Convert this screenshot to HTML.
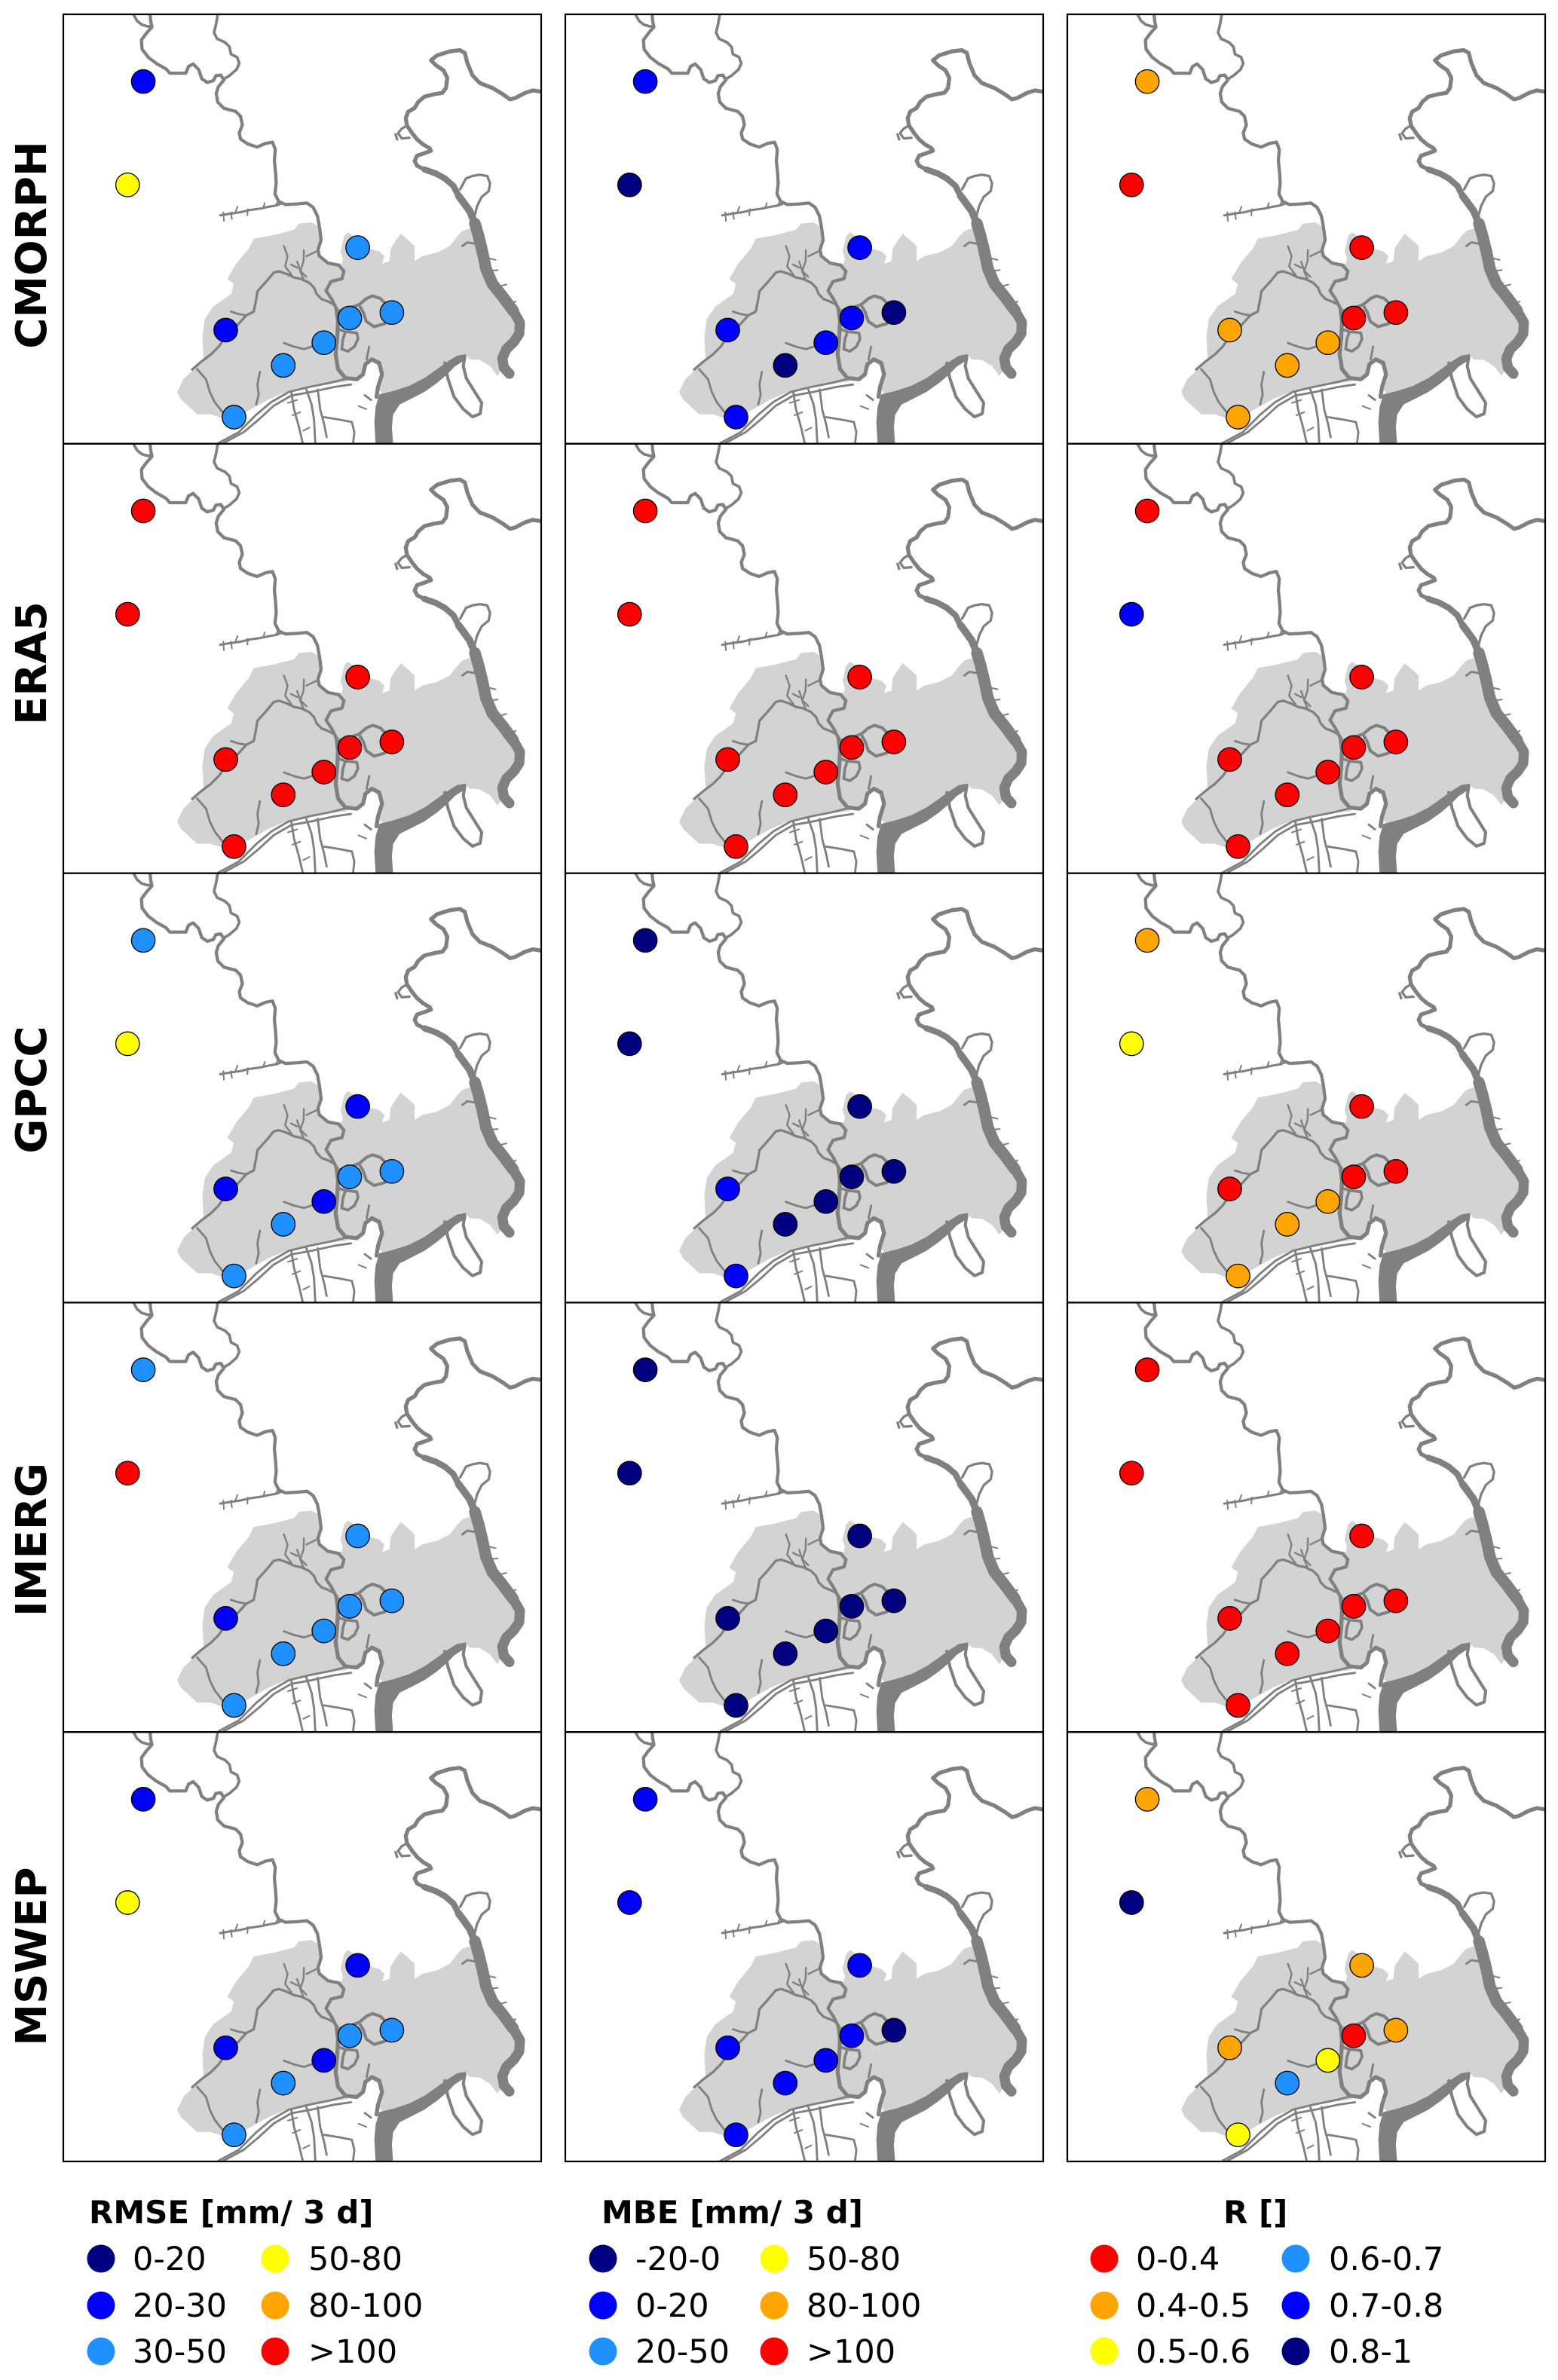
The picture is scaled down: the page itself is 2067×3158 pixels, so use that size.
<!DOCTYPE html>
<html><head><meta charset="utf-8"><style>
html,body{margin:0;padding:0;background:#fff;}
body{width:2067px;height:3158px;overflow:hidden;}
svg{display:block;}
.N{fill:#000080}.B{fill:#0000ff}.D{fill:#1e90ff}.Y{fill:#ffff00}.O{fill:#ffa500}.R{fill:#ff0000}
.st circle{stroke:#000;stroke-width:1.3;}
text{font-family:"DejaVu Sans","Liberation Sans",sans-serif;fill:#000;}
</style></head><body>
<svg width="2067" height="3158" viewBox="0 0 2067 3158" xmlns="http://www.w3.org/2000/svg" xmlns:xlink="http://www.w3.org/1999/xlink">
<defs>
<clipPath id="cp"><rect x="0" y="46.5" width="1553" height="1396"/></clipPath>
<g id="map" clip-path="url(#cp)">
<path fill="#d3d3d3" d="M435,1347 L382,1298 L370,1274 L390,1233 L423,1201 L456,1168 L452,1094 L460,1037 L488,996 L546,955 L554,923 L533,907 L562,857 L603,808 L619,776 L684,764 L750,747 L766,727 L807,723 L827,735 L838,780 L828,812 L832,832 L860,855 L905,857 L909,841 L901,817 L913,768 L925,755 L946,768 L995,808 L1027,817 L1044,833 L1036,857 L1060,849 L1064,808 L1085,776 L1097,760 L1125,784 L1142,800 L1142,849 L1166,833 L1215,821 L1256,800 L1281,768 L1297,751 L1321,743 L1338,776 L1362,857 L1387,915 L1427,964 L1460,996 L1485,1037 L1489,1070 L1476,1094 L1452,1111 L1427,1135 L1419,1168 L1425,1200 L1411,1222 L1387,1190 L1354,1170 L1321,1168 L1305,1151 L1281,1156 L1256,1176 L1232,1192 L1207,1217 L1174,1241 L1142,1258 L1109,1270 L1076,1282 L1044,1290 L1027,1266 L1036,1225 L1027,1192 L1003,1176 L986,1176 L974,1200 L962,1225 L929,1233 L921,1241 L848,1250 L799,1258 L725,1274 L668,1298 L595,1339 L517,1360 L480,1347 Z"/>
<g fill="none" stroke="#808080" stroke-linejoin="round" stroke-linecap="round">
<path stroke-width="9" d="M228,47 L240,68 L255,80 L275,86 L288,84"/>
<path stroke-width="10.5" d="M282,47 L284,68 L288,88 L270,108 L254,130 L256,160 L276,186 L302,206 L334,224 L346,238 L398,238 L407,216 L422,208 L440,226 L450,256 L468,268 L488,262 L496,246 L512,244 L522,260 L504,282 L497,304 L502,332 L522,352 L560,362 L576,378 L582,406 L572,432 L576,452 L600,468 L630,478 L658,466 L680,462 L689,486 L686,522 L690,562 L692,596 L688,630 L700,655 L722,665 L760,663 L792,660 L812,674 L826,702 L833,740 L838,780 L828,812 L832,832 L860,855 L895,862 L912,882 L906,906 L870,915 L854,945 L872,972 L888,1004"/>
<path stroke-width="13" d="M888,1004 L893,1045 L890,1102 L885,1151 L893,1200 L917,1229 L954,1233 L974,1217 L982,1184 L1003,1168 L1027,1180 L1036,1217 L1023,1258 L1018,1290"/>
<path stroke-width="9" d="M502,47 L497,76 L490,106 L500,126 L526,138 L540,152 L545,176 L565,186 L572,206 L563,226 L540,246 L520,258"/>
<path stroke-width="7.5" d="M510,700 L540,695 L575,690 L605,683 L640,678 L668,672 L692,668 L712,660"/>
<path stroke-width="5" d="M520,690 L522,718 M545,690 L548,712 M600,680 L598,700 M650,675 L655,660 M690,668 L700,650 M560,688 L566,672"/>
<path stroke-width="8" d="M419,1201 L448,1176 L480,1152 L505,1127 L528,1094 L554,1070 L595,1025 L619,1013 L627,972 L631,947 L660,915 L684,886 L701,882 L725,890 L750,902 L774,907 L799,919 L815,935 L823,955 L839,972 L860,980 L880,990"/>
<path stroke-width="7" d="M545,1013 L570,1021 L595,1025"/>
<path stroke-width="6" d="M717,800 L729,833 L721,866 L742,894 M782,813 L781,849 L770,882 L780,905 M790,833 L823,817 M760,850 L770,880 L790,900 M740,860 L760,870"/>
<path stroke-width="7" d="M435,1200 L464,1233 L476,1274 L492,1307 L517,1339 L540,1345"/>
<path stroke-width="7" d="M639,1209 L631,1250 L635,1282 L627,1315"/>
<path stroke-width="7" d="M717,1115 L750,1127 L782,1135 L807,1127"/>
<path stroke-width="7" d="M505,1440 L570,1405 L627,1348 L676,1307 L733,1274 L799,1258 L864,1245 L913,1233"/>
<path stroke-width="7" d="M521,1440 L586,1405 L635,1364 L684,1319 L741,1286 L807,1274 L880,1258 L935,1250"/>
<path stroke-width="7" d="M741,1274 L750,1331 L766,1388 L778,1440 M790,1266 L807,1315 L815,1364 L819,1440 M827,1266 L835,1331 L848,1380 L856,1421 M848,1356 L897,1364 L938,1372 L946,1405 L942,1440 M980,1285 L1000,1300"/>
<path stroke-width="5" d="M760,1300 L730,1310 M770,1340 L745,1350 M800,1390 L780,1400 M960,1320 L985,1330"/>
<path stroke-width="10" d="M900,1010 L935,1000 L962,990 L986,970 L1005,962 L1030,970 L1045,985"/>
<path stroke-width="10" d="M1045,1052 L1010,1062 L985,1045 L975,1015 L965,998"/>
<path stroke-width="9" d="M893,1070 L917,1078 L954,1082 L958,1102 L946,1127 L925,1142 L905,1135 L909,1102 L917,1078"/>
<path stroke-width="7" d="M994,1127 L986,1168"/>
<path stroke-width="13" d="M1553,298 L1526,294 L1501,302 L1468,319 L1452,323 L1428,306 L1395,286 L1354,270 L1330,245 L1313,204 L1305,172 L1289,163 L1256,167 L1215,180 L1195,196 L1211,212 L1236,229 L1248,253 L1244,286 L1232,302 L1207,306 L1174,314 L1154,331 L1142,351 L1121,363 L1113,384 L1117,408 L1134,433 L1150,453 L1170,470 L1191,482 L1195,490 L1174,498 L1150,506 L1142,523 L1150,539 L1174,551"/>
<path stroke-width="20" d="M1174,551 L1211,564 L1240,580 L1268,604 L1285,637"/>
<path stroke-width="24" d="M1285,637 L1297,653 L1321,686 L1338,727"/>
<path stroke-width="38" d="M1338,727 L1350,768 L1362,817 L1374,874 L1395,923 L1428,964 L1462,1010"/>
<path stroke-width="33" d="M1462,1010 L1484,1048 L1482,1085 L1464,1112 L1440,1135 L1427,1165 L1432,1195 L1450,1215"/>
<path stroke-width="8" d="M1117,408 L1100,418 L1088,433 L1100,450 L1125,448 M1080,437 L1085,453"/>
<path stroke-width="8" d="M1290,615 L1309,580 L1330,572 L1354,568 L1378,572 L1387,596 L1383,621 L1360,640 L1345,670 L1337,700"/>
<path stroke-width="7" d="M1297,800 L1313,788 L1338,792"/>
<path stroke-width="5" d="M1385,840 L1405,845 M1395,880 L1412,878 M1420,930 L1440,925 M1450,990 L1470,980"/>
<path stroke-width="10" d="M1240,1180 L1250,1230 L1270,1290 L1300,1330 L1330,1355 L1355,1345 L1360,1310 L1335,1270 L1310,1230 L1300,1190 L1305,1160"/>
</g>
<path fill="#808080" d="M1027,1282 L1015,1323 L1011,1372 L1015,1445 L1072,1445 L1068,1388 L1072,1348 L1093,1315 L1125,1299 L1174,1274 L1215,1245 L1248,1217 L1272,1192 L1297,1176 L1309,1168 L1309,1151 L1280,1156 L1248,1176 L1215,1200 L1174,1229 L1125,1254 L1076,1270 L1044,1278 Z"/>
</g>
</defs>

<!-- maps -->
<use xlink:href="#map" href="#map" transform="translate(84,0.02) scale(0.40816)"/>
<use xlink:href="#map" href="#map" transform="translate(750,0.02) scale(0.40816)"/>
<use xlink:href="#map" href="#map" transform="translate(1416,0.02) scale(0.40816)"/>
<use xlink:href="#map" href="#map" transform="translate(84,569.82) scale(0.40816)"/>
<use xlink:href="#map" href="#map" transform="translate(750,569.82) scale(0.40816)"/>
<use xlink:href="#map" href="#map" transform="translate(1416,569.82) scale(0.40816)"/>
<use xlink:href="#map" href="#map" transform="translate(84,1139.62) scale(0.40816)"/>
<use xlink:href="#map" href="#map" transform="translate(750,1139.62) scale(0.40816)"/>
<use xlink:href="#map" href="#map" transform="translate(1416,1139.62) scale(0.40816)"/>
<use xlink:href="#map" href="#map" transform="translate(84,1709.42) scale(0.40816)"/>
<use xlink:href="#map" href="#map" transform="translate(750,1709.42) scale(0.40816)"/>
<use xlink:href="#map" href="#map" transform="translate(1416,1709.42) scale(0.40816)"/>
<use xlink:href="#map" href="#map" transform="translate(84,2279.22) scale(0.40816)"/>
<use xlink:href="#map" href="#map" transform="translate(750,2279.22) scale(0.40816)"/>
<use xlink:href="#map" href="#map" transform="translate(1416,2279.22) scale(0.40816)"/>

<!-- stations -->
<!-- Row 0 CMORPH -->
<g class="st" transform="translate(84,19)">
<circle class="B" cx="106.1" cy="89.2" r="15.7"/><circle class="Y" cx="85.3" cy="226.3" r="15.7"/><circle class="D" cx="390.6" cy="309.6" r="15.7"/><circle class="B" cx="215.5" cy="419" r="15.7"/><circle class="D" cx="291.8" cy="465.9" r="15.7"/><circle class="D" cx="345.7" cy="435.7" r="15.7"/><circle class="D" cx="380" cy="403" r="15.7"/><circle class="D" cx="435.9" cy="395.7" r="15.7"/><circle class="D" cx="226.5" cy="534.5" r="15.7"/>
</g>
<g class="st" transform="translate(750,19)">
<circle class="B" cx="106.1" cy="89.2" r="15.7"/><circle class="N" cx="85.3" cy="226.3" r="15.7"/><circle class="B" cx="390.6" cy="309.6" r="15.7"/><circle class="B" cx="215.5" cy="419" r="15.7"/><circle class="N" cx="291.8" cy="465.9" r="15.7"/><circle class="B" cx="345.7" cy="435.7" r="15.7"/><circle class="B" cx="380" cy="403" r="15.7"/><circle class="N" cx="435.9" cy="395.7" r="15.7"/><circle class="B" cx="226.5" cy="534.5" r="15.7"/>
</g>
<g class="st" transform="translate(1416,19)">
<circle class="O" cx="106.1" cy="89.2" r="15.7"/><circle class="R" cx="85.3" cy="226.3" r="15.7"/><circle class="R" cx="390.6" cy="309.6" r="15.7"/><circle class="O" cx="215.5" cy="419" r="15.7"/><circle class="O" cx="291.8" cy="465.9" r="15.7"/><circle class="O" cx="345.7" cy="435.7" r="15.7"/><circle class="R" cx="380" cy="403" r="15.7"/><circle class="R" cx="435.9" cy="395.7" r="15.7"/><circle class="O" cx="226.5" cy="534.5" r="15.7"/>
</g>
<!-- Row 1 ERA5 -->
<g class="st" transform="translate(84,588.8)">
<circle class="R" cx="106.1" cy="89.2" r="15.7"/><circle class="R" cx="85.3" cy="226.3" r="15.7"/><circle class="R" cx="390.6" cy="309.6" r="15.7"/><circle class="R" cx="215.5" cy="419" r="15.7"/><circle class="R" cx="291.8" cy="465.9" r="15.7"/><circle class="R" cx="345.7" cy="435.7" r="15.7"/><circle class="R" cx="380" cy="403" r="15.7"/><circle class="R" cx="435.9" cy="395.7" r="15.7"/><circle class="R" cx="226.5" cy="534.5" r="15.7"/>
</g>
<g class="st" transform="translate(750,588.8)">
<circle class="R" cx="106.1" cy="89.2" r="15.7"/><circle class="R" cx="85.3" cy="226.3" r="15.7"/><circle class="R" cx="390.6" cy="309.6" r="15.7"/><circle class="R" cx="215.5" cy="419" r="15.7"/><circle class="R" cx="291.8" cy="465.9" r="15.7"/><circle class="R" cx="345.7" cy="435.7" r="15.7"/><circle class="R" cx="380" cy="403" r="15.7"/><circle class="R" cx="435.9" cy="395.7" r="15.7"/><circle class="R" cx="226.5" cy="534.5" r="15.7"/>
</g>
<g class="st" transform="translate(1416,588.8)">
<circle class="R" cx="106.1" cy="89.2" r="15.7"/><circle class="B" cx="85.3" cy="226.3" r="15.7"/><circle class="R" cx="390.6" cy="309.6" r="15.7"/><circle class="R" cx="215.5" cy="419" r="15.7"/><circle class="R" cx="291.8" cy="465.9" r="15.7"/><circle class="R" cx="345.7" cy="435.7" r="15.7"/><circle class="R" cx="380" cy="403" r="15.7"/><circle class="R" cx="435.9" cy="395.7" r="15.7"/><circle class="R" cx="226.5" cy="534.5" r="15.7"/>
</g>
<!-- Row 2 GPCC -->
<g class="st" transform="translate(84,1158.6)">
<circle class="D" cx="106.1" cy="89.2" r="15.7"/><circle class="Y" cx="85.3" cy="226.3" r="15.7"/><circle class="B" cx="390.6" cy="309.6" r="15.7"/><circle class="B" cx="215.5" cy="419" r="15.7"/><circle class="D" cx="291.8" cy="465.9" r="15.7"/><circle class="B" cx="345.7" cy="435.7" r="15.7"/><circle class="D" cx="380" cy="403" r="15.7"/><circle class="D" cx="435.9" cy="395.7" r="15.7"/><circle class="D" cx="226.5" cy="534.5" r="15.7"/>
</g>
<g class="st" transform="translate(750,1158.6)">
<circle class="N" cx="106.1" cy="89.2" r="15.7"/><circle class="N" cx="85.3" cy="226.3" r="15.7"/><circle class="N" cx="390.6" cy="309.6" r="15.7"/><circle class="B" cx="215.5" cy="419" r="15.7"/><circle class="N" cx="291.8" cy="465.9" r="15.7"/><circle class="N" cx="345.7" cy="435.7" r="15.7"/><circle class="N" cx="380" cy="403" r="15.7"/><circle class="N" cx="435.9" cy="395.7" r="15.7"/><circle class="B" cx="226.5" cy="534.5" r="15.7"/>
</g>
<g class="st" transform="translate(1416,1158.6)">
<circle class="O" cx="106.1" cy="89.2" r="15.7"/><circle class="Y" cx="85.3" cy="226.3" r="15.7"/><circle class="R" cx="390.6" cy="309.6" r="15.7"/><circle class="R" cx="215.5" cy="419" r="15.7"/><circle class="O" cx="291.8" cy="465.9" r="15.7"/><circle class="O" cx="345.7" cy="435.7" r="15.7"/><circle class="R" cx="380" cy="403" r="15.7"/><circle class="R" cx="435.9" cy="395.7" r="15.7"/><circle class="O" cx="226.5" cy="534.5" r="15.7"/>
</g>
<!-- Row 3 IMERG -->
<g class="st" transform="translate(84,1728.4)">
<circle class="D" cx="106.1" cy="89.2" r="15.7"/><circle class="R" cx="85.3" cy="226.3" r="15.7"/><circle class="D" cx="390.6" cy="309.6" r="15.7"/><circle class="B" cx="215.5" cy="419" r="15.7"/><circle class="D" cx="291.8" cy="465.9" r="15.7"/><circle class="D" cx="345.7" cy="435.7" r="15.7"/><circle class="D" cx="380" cy="403" r="15.7"/><circle class="D" cx="435.9" cy="395.7" r="15.7"/><circle class="D" cx="226.5" cy="534.5" r="15.7"/>
</g>
<g class="st" transform="translate(750,1728.4)">
<circle class="N" cx="106.1" cy="89.2" r="15.7"/><circle class="N" cx="85.3" cy="226.3" r="15.7"/><circle class="N" cx="390.6" cy="309.6" r="15.7"/><circle class="N" cx="215.5" cy="419" r="15.7"/><circle class="N" cx="291.8" cy="465.9" r="15.7"/><circle class="N" cx="345.7" cy="435.7" r="15.7"/><circle class="N" cx="380" cy="403" r="15.7"/><circle class="N" cx="435.9" cy="395.7" r="15.7"/><circle class="N" cx="226.5" cy="534.5" r="15.7"/>
</g>
<g class="st" transform="translate(1416,1728.4)">
<circle class="R" cx="106.1" cy="89.2" r="15.7"/><circle class="R" cx="85.3" cy="226.3" r="15.7"/><circle class="R" cx="390.6" cy="309.6" r="15.7"/><circle class="R" cx="215.5" cy="419" r="15.7"/><circle class="R" cx="291.8" cy="465.9" r="15.7"/><circle class="R" cx="345.7" cy="435.7" r="15.7"/><circle class="R" cx="380" cy="403" r="15.7"/><circle class="R" cx="435.9" cy="395.7" r="15.7"/><circle class="R" cx="226.5" cy="534.5" r="15.7"/>
</g>
<!-- Row 4 MSWEP -->
<g class="st" transform="translate(84,2298.2)">
<circle class="B" cx="106.1" cy="89.2" r="15.7"/><circle class="Y" cx="85.3" cy="226.3" r="15.7"/><circle class="B" cx="390.6" cy="309.6" r="15.7"/><circle class="B" cx="215.5" cy="419" r="15.7"/><circle class="D" cx="291.8" cy="465.9" r="15.7"/><circle class="B" cx="345.7" cy="435.7" r="15.7"/><circle class="D" cx="380" cy="403" r="15.7"/><circle class="D" cx="435.9" cy="395.7" r="15.7"/><circle class="D" cx="226.5" cy="534.5" r="15.7"/>
</g>
<g class="st" transform="translate(750,2298.2)">
<circle class="B" cx="106.1" cy="89.2" r="15.7"/><circle class="B" cx="85.3" cy="226.3" r="15.7"/><circle class="B" cx="390.6" cy="309.6" r="15.7"/><circle class="B" cx="215.5" cy="419" r="15.7"/><circle class="B" cx="291.8" cy="465.9" r="15.7"/><circle class="B" cx="345.7" cy="435.7" r="15.7"/><circle class="B" cx="380" cy="403" r="15.7"/><circle class="N" cx="435.9" cy="395.7" r="15.7"/><circle class="B" cx="226.5" cy="534.5" r="15.7"/>
</g>
<g class="st" transform="translate(1416,2298.2)">
<circle class="O" cx="106.1" cy="89.2" r="15.7"/><circle class="N" cx="85.3" cy="226.3" r="15.7"/><circle class="O" cx="390.6" cy="309.6" r="15.7"/><circle class="O" cx="215.5" cy="419" r="15.7"/><circle class="D" cx="291.8" cy="465.9" r="15.7"/><circle class="Y" cx="345.7" cy="435.7" r="15.7"/><circle class="R" cx="380" cy="403" r="15.7"/><circle class="O" cx="435.9" cy="395.7" r="15.7"/><circle class="Y" cx="226.5" cy="534.5" r="15.7"/>
</g>

<!-- panel borders -->
<g fill="none" stroke="#000" stroke-width="2.2">
<rect x="84" y="19" width="634" height="569.8"/><rect x="750" y="19" width="634" height="569.8"/><rect x="1416" y="19" width="634" height="569.8"/>
<rect x="84" y="588.8" width="634" height="569.8"/><rect x="750" y="588.8" width="634" height="569.8"/><rect x="1416" y="588.8" width="634" height="569.8"/>
<rect x="84" y="1158.6" width="634" height="569.8"/><rect x="750" y="1158.6" width="634" height="569.8"/><rect x="1416" y="1158.6" width="634" height="569.8"/>
<rect x="84" y="1728.4" width="634" height="569.8"/><rect x="750" y="1728.4" width="634" height="569.8"/><rect x="1416" y="1728.4" width="634" height="569.8"/>
<rect x="84" y="2298.2" width="634" height="569.8"/><rect x="750" y="2298.2" width="634" height="569.8"/><rect x="1416" y="2298.2" width="634" height="569.8"/>
</g>

<!-- row labels -->
<g font-size="56" font-weight="bold" text-anchor="middle">
<text transform="translate(61,325) rotate(-90)">CMORPH</text>
<text transform="translate(61,880) rotate(-90)">ERA5</text>
<text transform="translate(61,1446) rotate(-90)">GPCC</text>
<text transform="translate(61,2043) rotate(-90)">IMERG</text>
<text transform="translate(61,2596) rotate(-90)">MSWEP</text>
</g>

<!-- legends -->
<g font-size="42" font-weight="bold">
<text x="118" y="2950">RMSE [mm/ 3 d]</text>
<text x="798" y="2950">MBE [mm/ 3 d]</text>
<text x="1623" y="2950">R []</text>
</g>
<g>
<circle class="N" cx="134" cy="2997" r="18.5"/><circle class="B" cx="134" cy="3059" r="18.5"/><circle class="D" cx="134" cy="3120" r="18.5"/>
<circle class="Y" cx="365" cy="2997" r="18.5"/><circle class="O" cx="365" cy="3059" r="18.5"/><circle class="R" cx="365" cy="3120" r="18.5"/>
<circle class="N" cx="800" cy="2997" r="18.5"/><circle class="B" cx="800" cy="3059" r="18.5"/><circle class="D" cx="800" cy="3120" r="18.5"/>
<circle class="Y" cx="1027" cy="2997" r="18.5"/><circle class="O" cx="1027" cy="3059" r="18.5"/><circle class="R" cx="1027" cy="3120" r="18.5"/>
<circle class="R" cx="1465" cy="2997" r="18.5"/><circle class="O" cx="1465" cy="3059" r="18.5"/><circle class="Y" cx="1465" cy="3120" r="18.5"/>
<circle class="D" cx="1719" cy="2997" r="18.5"/><circle class="B" cx="1719" cy="3059" r="18.5"/><circle class="N" cx="1719" cy="3120" r="18.5"/>
</g>
<g font-size="43">
<text x="176" y="3012">0-20</text><text x="176" y="3074">20-30</text><text x="176" y="3135">30-50</text>
<text x="409" y="3012">50-80</text><text x="409" y="3074">80-100</text><text x="409" y="3135">&gt;100</text>
<text x="843" y="3012">-20-0</text><text x="843" y="3074">0-20</text><text x="843" y="3135">20-50</text>
<text x="1070" y="3012">50-80</text><text x="1070" y="3074">80-100</text><text x="1070" y="3135">&gt;100</text>
<text x="1507" y="3012">0-0.4</text><text x="1507" y="3074">0.4-0.5</text><text x="1507" y="3135">0.5-0.6</text>
<text x="1763" y="3012">0.6-0.7</text><text x="1763" y="3074">0.7-0.8</text><text x="1763" y="3135">0.8-1</text>
</g>
</svg>
</body></html>
